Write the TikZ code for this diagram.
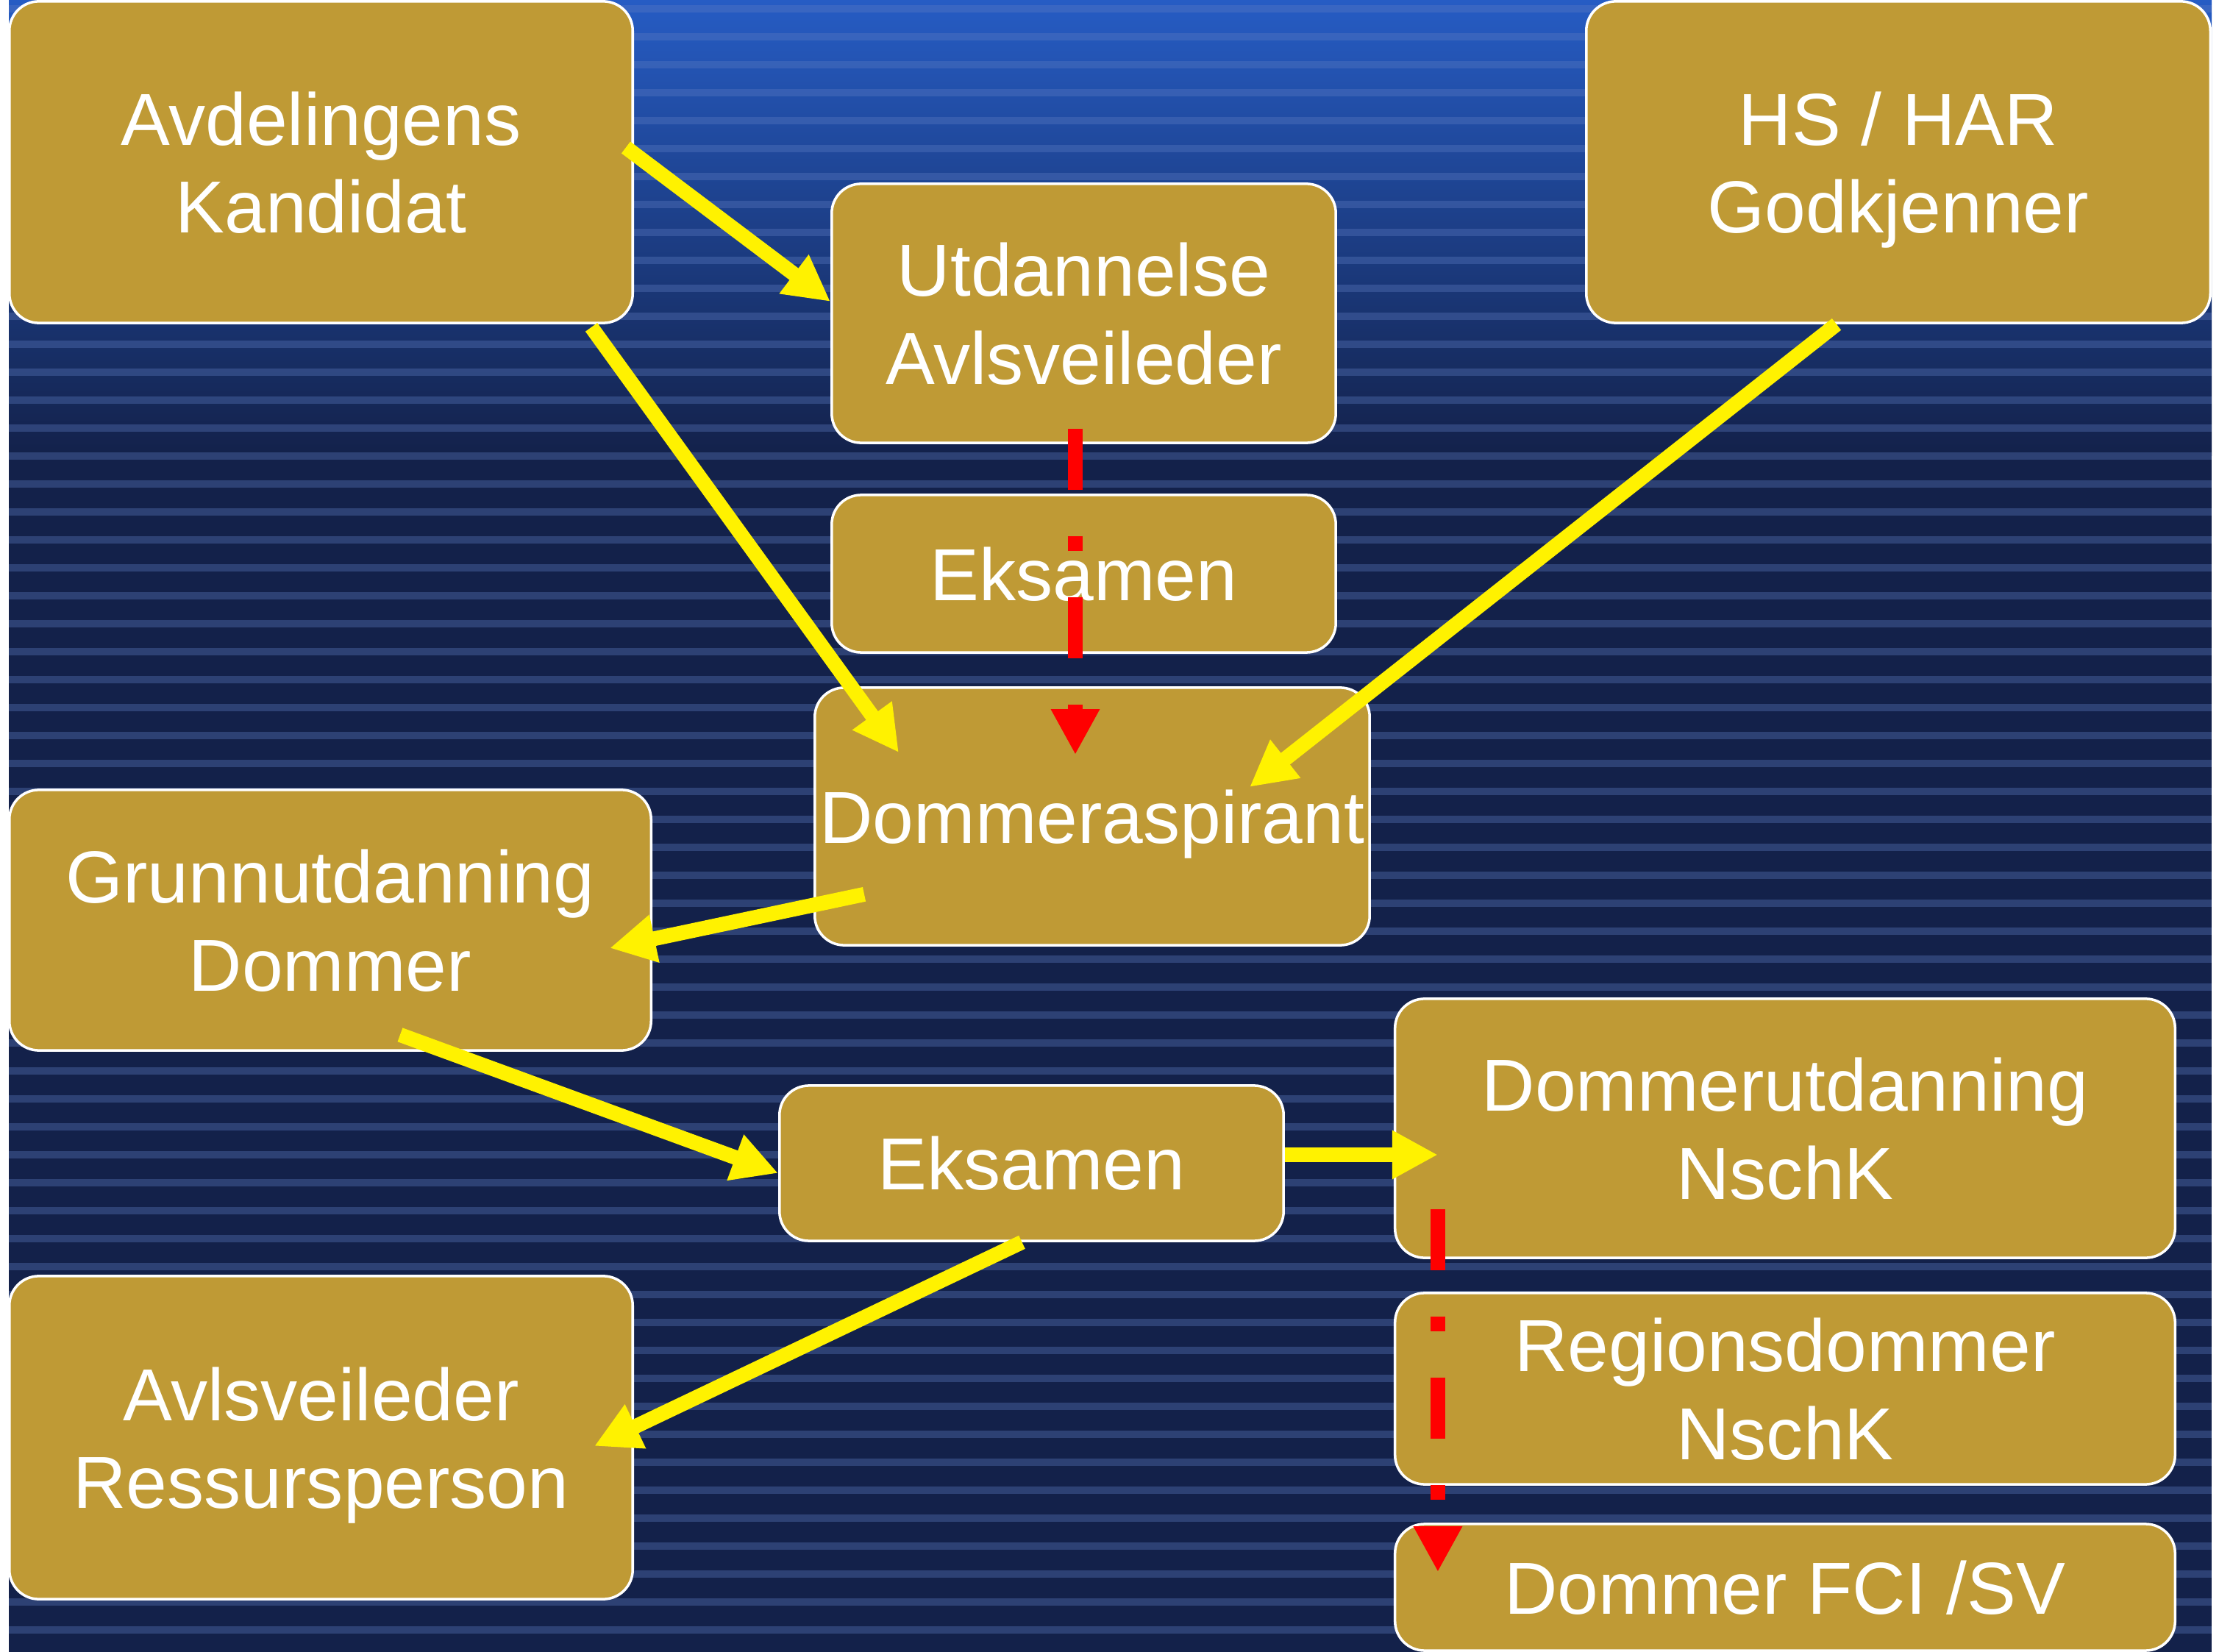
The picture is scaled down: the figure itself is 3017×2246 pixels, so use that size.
\documentclass[tikz,border=0pt]{standalone}
\usepackage{fontspec}
\setmainfont{Liberation Sans}
\usetikzlibrary{arrows.meta,calc}

\definecolor{navy}{RGB}{19,33,74}
\definecolor{skyblue}{RGB}{38,92,196}
\definecolor{stripeblue}{RGB}{95,125,195}
\definecolor{gold}{RGB}{191,154,53}

\tikzset{
  box/.style={draw=white,line width=1pt,fill=gold,rounded corners=0.4cm,
    text=white,align=center,inner sep=0pt,text depth=0pt,
    font=\fontsize{28.5}{34}\selectfont},
  stripe/.style={stripeblue,opacity=0.35,line width=0.1cm},
  flow/.style={draw=yellow,line width=0.2cm,-{Triangle[length=0.62cm,width=0.62cm]}},
  redflow/.style={draw=red,line width=0.2cm,
    dash pattern=on 0.83cm off 0.63cm on 0.2cm off 0.63cm,
    -{Triangle[length=0.62cm,width=0.62cm]}}
}

\begin{document}
\begin{tikzpicture}[x=0.01cm,y=-0.01cm]

  \useasboundingbox (0,0) rectangle (3017,2246);
  \fill[navy] (12,0) rectangle (3007,2246);
  \shade[top color=skyblue,bottom color=navy] (12,0) rectangle (3007,620);
  \foreach \y in {12,50,...,2246}
    \draw[stripe] (12,\y) -- (3007,\y);

  \draw (436.5,220.5) node[box,minimum width=8.47cm,minimum height=4.37cm] (kand) {Avdelingens\\Kandidat};
\draw (1473.5,426) node[box,minimum width=6.85cm,minimum height=3.52cm] (utd) {Utdannelse\\Avlsveileder};
\draw (1473.5,780) node[box,minimum width=6.85cm,minimum height=2.14cm] (eksa) {Eksamen};
\draw (1485,1110) node[box,minimum width=7.54cm,minimum height=3.5cm] (asp) {Dommeraspirant};
\draw (2581,220.5) node[box,minimum width=8.48cm,minimum height=4.37cm] (hs) {HS / HAR\\Godkjenner};
\draw (449,1251) node[box,minimum width=8.72cm,minimum height=3.54cm] (grunn) {Grunnutdanning\\Dommer};
\draw (1402.5,1581.5) node[box,minimum width=6.85cm,minimum height=2.11cm] (eksb) {Eksamen};
\draw (2427,1534) node[box,minimum width=10.6cm,minimum height=3.52cm] (dutd) {Dommerutdanning\\NschK};
\draw (2427,1888) node[box,minimum width=10.6cm,minimum height=2.6cm] (reg) {Regionsdommer\\NschK};
\draw (2427,2158) node[box,minimum width=10.6cm,minimum height=1.72cm] (fci) {Dommer FCI /SV};
\draw (436.5,1954.5) node[box,minimum width=8.47cm,minimum height=4.39cm] (avls) {Avlsveileder\\Ressursperson};


  \draw[flow] ($(kand.east)+(-11,-20)$) -- ($(utd.west)+(0,-16)$);
  \draw[flow] ($(kand.south east)+(-58,4)$) -- ($(asp.north west)+(116,90)$);
  \draw[flow] ($(hs.south)+(-84,0)$) -- ($(asp.east)+(-165,-40)$);
  \draw[flow] ($(asp.south west)+(69,-71)$) -- ($(grunn.east)+(-58,38)$);
  \draw[flow] ($(grunn.south)+(95,-23)$) -- ($(eksb.west)+(0,13.5)$);
  \draw[flow] ($(eksb.east)+(0,-11.5)$) -- ($(dutd.west)+(60,36)$);
  \draw[flow] ($(eksb.south)+(-13,0)$) -- ($(avls.east)+(-54,11.5)$);

  \draw[redflow] ($(utd.south)+(-11.5,-21)$) -- ($(asp.north)+(-23,93)$);
  \draw[redflow] ($(dutd.south west)+(60,-68)$) -- ($(fci.north west)+(60,67)$);

\end{tikzpicture}
\end{document}
